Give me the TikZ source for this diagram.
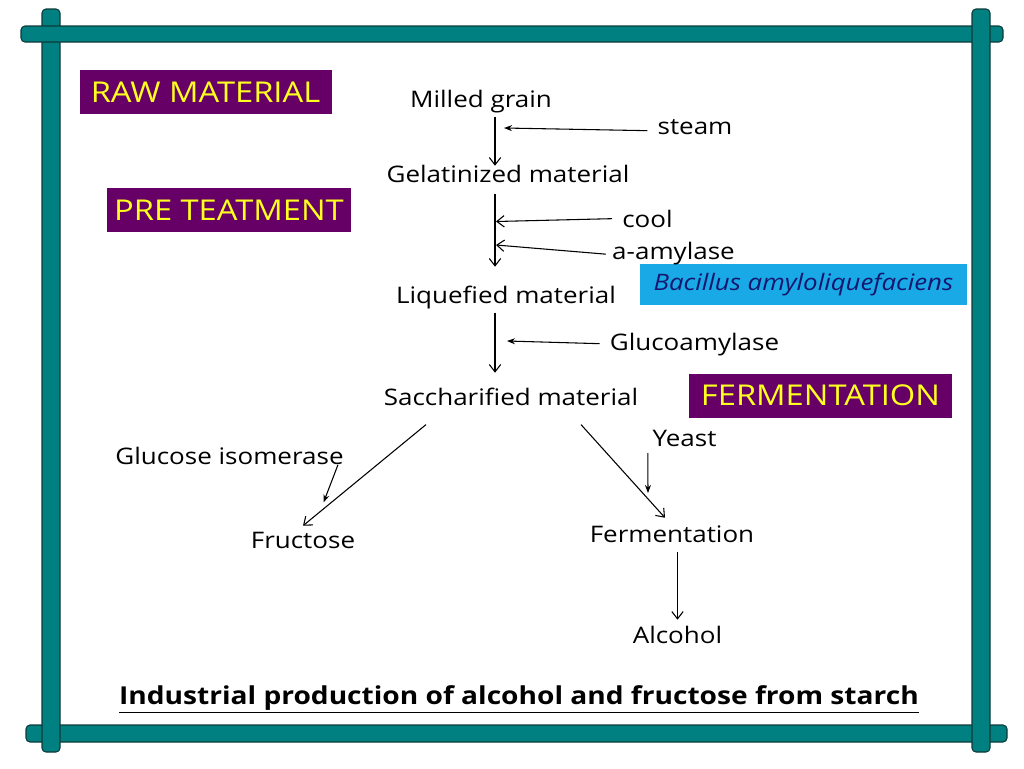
\documentclass[tikz,border=0pt]{standalone}
\usepackage{fontspec}
\setmainfont{Open Sans}[FakeStretch=1.14]
\usetikzlibrary{arrows.meta,calc}
\definecolor{frameteal}{HTML}{008080}
\definecolor{frameedge}{HTML}{0E3A3A}
\definecolor{stagepurple}{HTML}{660066}
\definecolor{stageyellow}{HTML}{FFFF1F}
\definecolor{microbeblue}{HTML}{19A9E6}
\definecolor{microbeink}{HTML}{16166E}
\tikzset{
  bar/.style={draw=frameedge,fill=frameteal,line width=0.8pt,rounded corners=3pt},
  flow/.style={-{Straight Barb[length=5.5pt,width=8.5pt]},line width=0.8pt},
  feed/.style={-{Stealth[length=6pt,width=4.5pt]},line width=0.8pt},
  matl/.style={font=\fontsize{17.1}{20}\selectfont,text height=0.75em,text depth=0.25em,
    inner sep=4.5pt,anchor=base},
  stagebox/.style={fill=stagepurple,text=stageyellow,font=\fontsize{21.5}{26}\selectfont,
    inner sep=0pt,minimum height=33pt},
  microbe/.style={fill=microbeblue,text=microbeink,font=\fontsize{17}{20}\selectfont\itshape,
    inner sep=0pt,minimum width=245pt,minimum height=31pt},
  caption/.style={font=\fontsize{18.5}{23}\selectfont\bfseries,anchor=base,inner sep=0pt}
}

\begin{document}
\begin{tikzpicture}[x=0.75pt,y=-0.75pt]
  \path[use as bounding box,fill=white] (0,0) rectangle (1024,768);

  % frame bars
  \draw[bar] (26,725) rectangle (1007,742);
  \draw[bar] (42,9) rectangle (60,752);
  \draw[bar] (21,26) rectangle (1003,42);
  \draw[bar] (972,9) rectangle (990,752);

  % stage tags
  \node[stagebox,minimum width=189pt] (rawtag) at (205.5,92) {RAW MATERIAL};
  \node[stagebox,minimum width=183pt] (pretag) at (229,210) {PRE TEATMENT};
  \node[stagebox,minimum width=197pt] (fermtag) at (820.5,395.5) {FERMENTATION};
  \node[microbe] (bacillus) at (803.5,284.5) {Bacillus amyloliquefaciens};

  % main line
  \node[matl] (milled) at (481,107) {Milled grain};
  \node[matl] (gel) at (508,182) {Gelatinized material};
  \node[matl] (liq) at (506,303) {Liquefied material};
  \node[matl] (sacch) at (511,405) {Saccharified material};
  \node[matl] (fruct) at (303,548) {Fructose};
  \node[matl] (ferm) at (672,542) {Fermentation};
  \node[matl] (alc) at (677.5,643) {Alcohol};

  % additions
  \node[matl] (steam) at (695,134) {steam};
  \node[matl] (cool) at (647.5,227) {cool};
  \node[matl] (amyl) at (673.5,259) {a-amylase};
  \node[matl] (gluco) at (694.5,350) {Glucoamylase};
  \node[matl] (isom) at (229.5,464) {Glucose isomerase};
  \node[matl] (yeast) at (684.5,446) {Yeast};

  \coordinate (spine) at (495,0);
  \coordinate (steamin) at (504,128);
  \coordinate (coolin) at (496,221.5);
  \coordinate (amylin) at (496,245);
  \coordinate (glucoin) at (507,341);
  \coordinate (isomin) at (323.5,502.5);
  \coordinate (yeastin) at (648,493);

  \draw[flow] (milled.south -| spine) -- (gel.north -| spine);
  \draw[flow,shorten <=2pt,shorten >=15pt] (gel.south -| spine) -- (liq.north -| spine);
  \draw[flow] (liq.south -| spine) -- ($(sacch.north -| spine)+(0,-16)$);
  \draw[flow] ($(sacch.south)+(-85,10)$) -- ($(fruct.north)+(0,-6)$);
  \draw[flow] ($(sacch.south)+(70,10)$) -- ($(ferm.north)+(-7,-8)$);
  \draw[flow] (ferm.south -| alc) -- ($(alc.north)+(0,-7)$);

  \draw[feed] ($(steam.west)+(-4,0)$) -- (steamin);
  \draw[flow] ($(cool.west)+(-4,-5)$) -- (coolin);
  \draw[flow] ($(amyl.west)+(0,-1.5)$) -- (amylin);
  \draw[feed] ($(gluco.west)+(-4,-3)$) -- (glucoin);
  \draw[feed] ($(isom.base east)+(-12,1)$) -- (isomin);
  \draw[feed] ($(yeast.base west)+(1.5,7)$) -- (yeastin);

  \node[caption] (title) at (519,704)
    {\underline{Industrial production of alcohol and fructose from starch}};
\end{tikzpicture}
\end{document}
